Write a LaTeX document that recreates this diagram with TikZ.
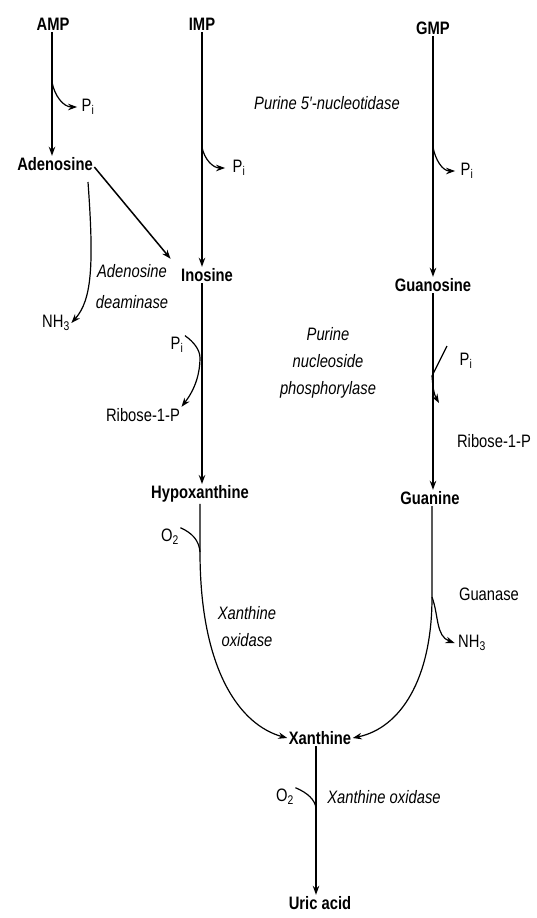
\documentclass[tikz,border=0pt]{standalone}
\usepackage{fontspec}
\setmainfont{Liberation Sans}[FakeStretch=0.82]
\usetikzlibrary{arrows.meta}

\begin{document}
\begin{tikzpicture}[x=1pt,y=-1pt,line width=1.2pt,
  >={Stealth[length=9pt,width=6.5pt]},
  met/.style={font=\bfseries\fontsize{18}{20}\selectfont,inner sep=1pt},
  enz/.style={font=\itshape\fontsize{18}{27}\selectfont,align=center,inner sep=1pt},
  sm/.style={font=\fontsize{18}{20}\selectfont,inner sep=1pt}]
\useasboundingbox (0,0) rectangle (537,918);
% metabolites
\node[met] (amp) at (53,24) {AMP};
\node[met] (imp) at (202,24) {IMP};
\node[met] (gmp) at (433,28) {GMP};
\node[met] (ado) at (55,164) {Adenosine};
\node[met] (ino) at (207,275) {Inosine};
\node[met] (guo) at (433,285) {Guanosine};
\node[met] (hyp) at (200,494) {Hypoxanthine};
\node[met] (gua) at (430,498) {Guanine};
\node[met] (xan) at (320,738) {Xanthine};
\node[met] (uric) at (320,903) {Uric acid};
% side products
\node[sm] (pia) at (88,107) {P\textsubscript{i}};
\node[sm] (pib) at (239,168) {P\textsubscript{i}};
\node[sm] (pic) at (467,171) {P\textsubscript{i}};
\node[sm] (nha) at (56,323) {NH\textsubscript{3}};
\node[sm] (pid) at (177,345) {P\textsubscript{i}};
\node[sm] (riba) at (143,415) {Ribose-1-P};
\node[sm] (pie) at (466,361) {P\textsubscript{i}};
\node[sm] (ribb) at (494,441) {Ribose-1-P};
\node[sm] (oxa) at (170,537) {O\textsubscript{2}};
\node[sm] (gase) at (489,594) {Guanase};
\node[sm] (nhb) at (472,643) {NH\textsubscript{3}};
\node[sm] (oxb) at (285,797) {O\textsubscript{2}};
% enzymes
\node[enz] (nuc) at (327,103) {Purine 5′-nucleotidase};
\node[enz] (ada) at (132,287) {Adenosine\\[4pt]deaminase};
\node[enz] (pnp) at (328,363) {Purine\\nucleoside\\phosphorylase};
\node[enz] (xoa) at (247,627) {Xanthine\\oxidase};
\node[enz] (xob) at (384,797) {Xanthine oxidase};
% branch points
\coordinate (ja) at (52,82);
\coordinate (jb) at (202,147);
\coordinate (jc) at (433,147);
\coordinate (jd) at (200,358);
\coordinate (pe) at (447,346);
\coordinate (je) at (432,376);
\coordinate (te) at (439,403);
\coordinate (jf) at (200,552);
\coordinate (jg) at (432,597);
\coordinate (jh) at (316,808);
\coordinate (da) at (88,182);
% main steps
\draw[->] (amp.south -| ja) -- (ja |- ado.north);
\draw[->] (imp.south) -- (imp.south |- ino.north);
\draw[->] (gmp.south) -- (gmp.south |- guo.north);
\draw[->,line width=1.5pt] ([yshift=-3pt]ado.east) -- ([xshift=-9pt,yshift=8pt]ino.north west);
\draw[->] (ino.south -| jb) -- (jb |- hyp.north);
\draw[->] (guo.south -| jc) -- (jc |- gua.north);
\draw[->] (hyp.south) -- (jf) .. controls (200,670) and (240,725) .. (xan.west);
\draw[->] (gua.south -| jg) -- (jg) .. controls (432,680) and (400,728) .. (xan.east);
\draw[->] (xan.south -| jh) -- (jh |- uric.north);
\draw[->] (da) .. controls (94,265) and (92,300) .. (nha.east);
% branches
\draw[->] (ja) to[out=-80,in=180] ([xshift=-3pt]pia.west);
\draw[->] (jb) to[out=-80,in=180] ([xshift=-6pt]pib.west);
\draw[->] (jc) to[out=-80,in=180] ([xshift=-4pt]pic.west);
\draw[->] (pid.north east) .. controls (194,342) and (200,350) .. (jd)
  .. controls (200,372) and (196,388) .. (riba.north east);
\draw[->] (pe) -- (je) to[out=-85,in=120] (te);
\draw (oxa.north east) .. controls (192,533) and (199,540) .. (jf);
\draw[->] (jg) to[out=-70,in=160] ([xshift=-2pt]nhb.west);
\draw (oxb.north east) .. controls (308,793) and (315,800) .. (jh);
\end{tikzpicture}
\end{document}
